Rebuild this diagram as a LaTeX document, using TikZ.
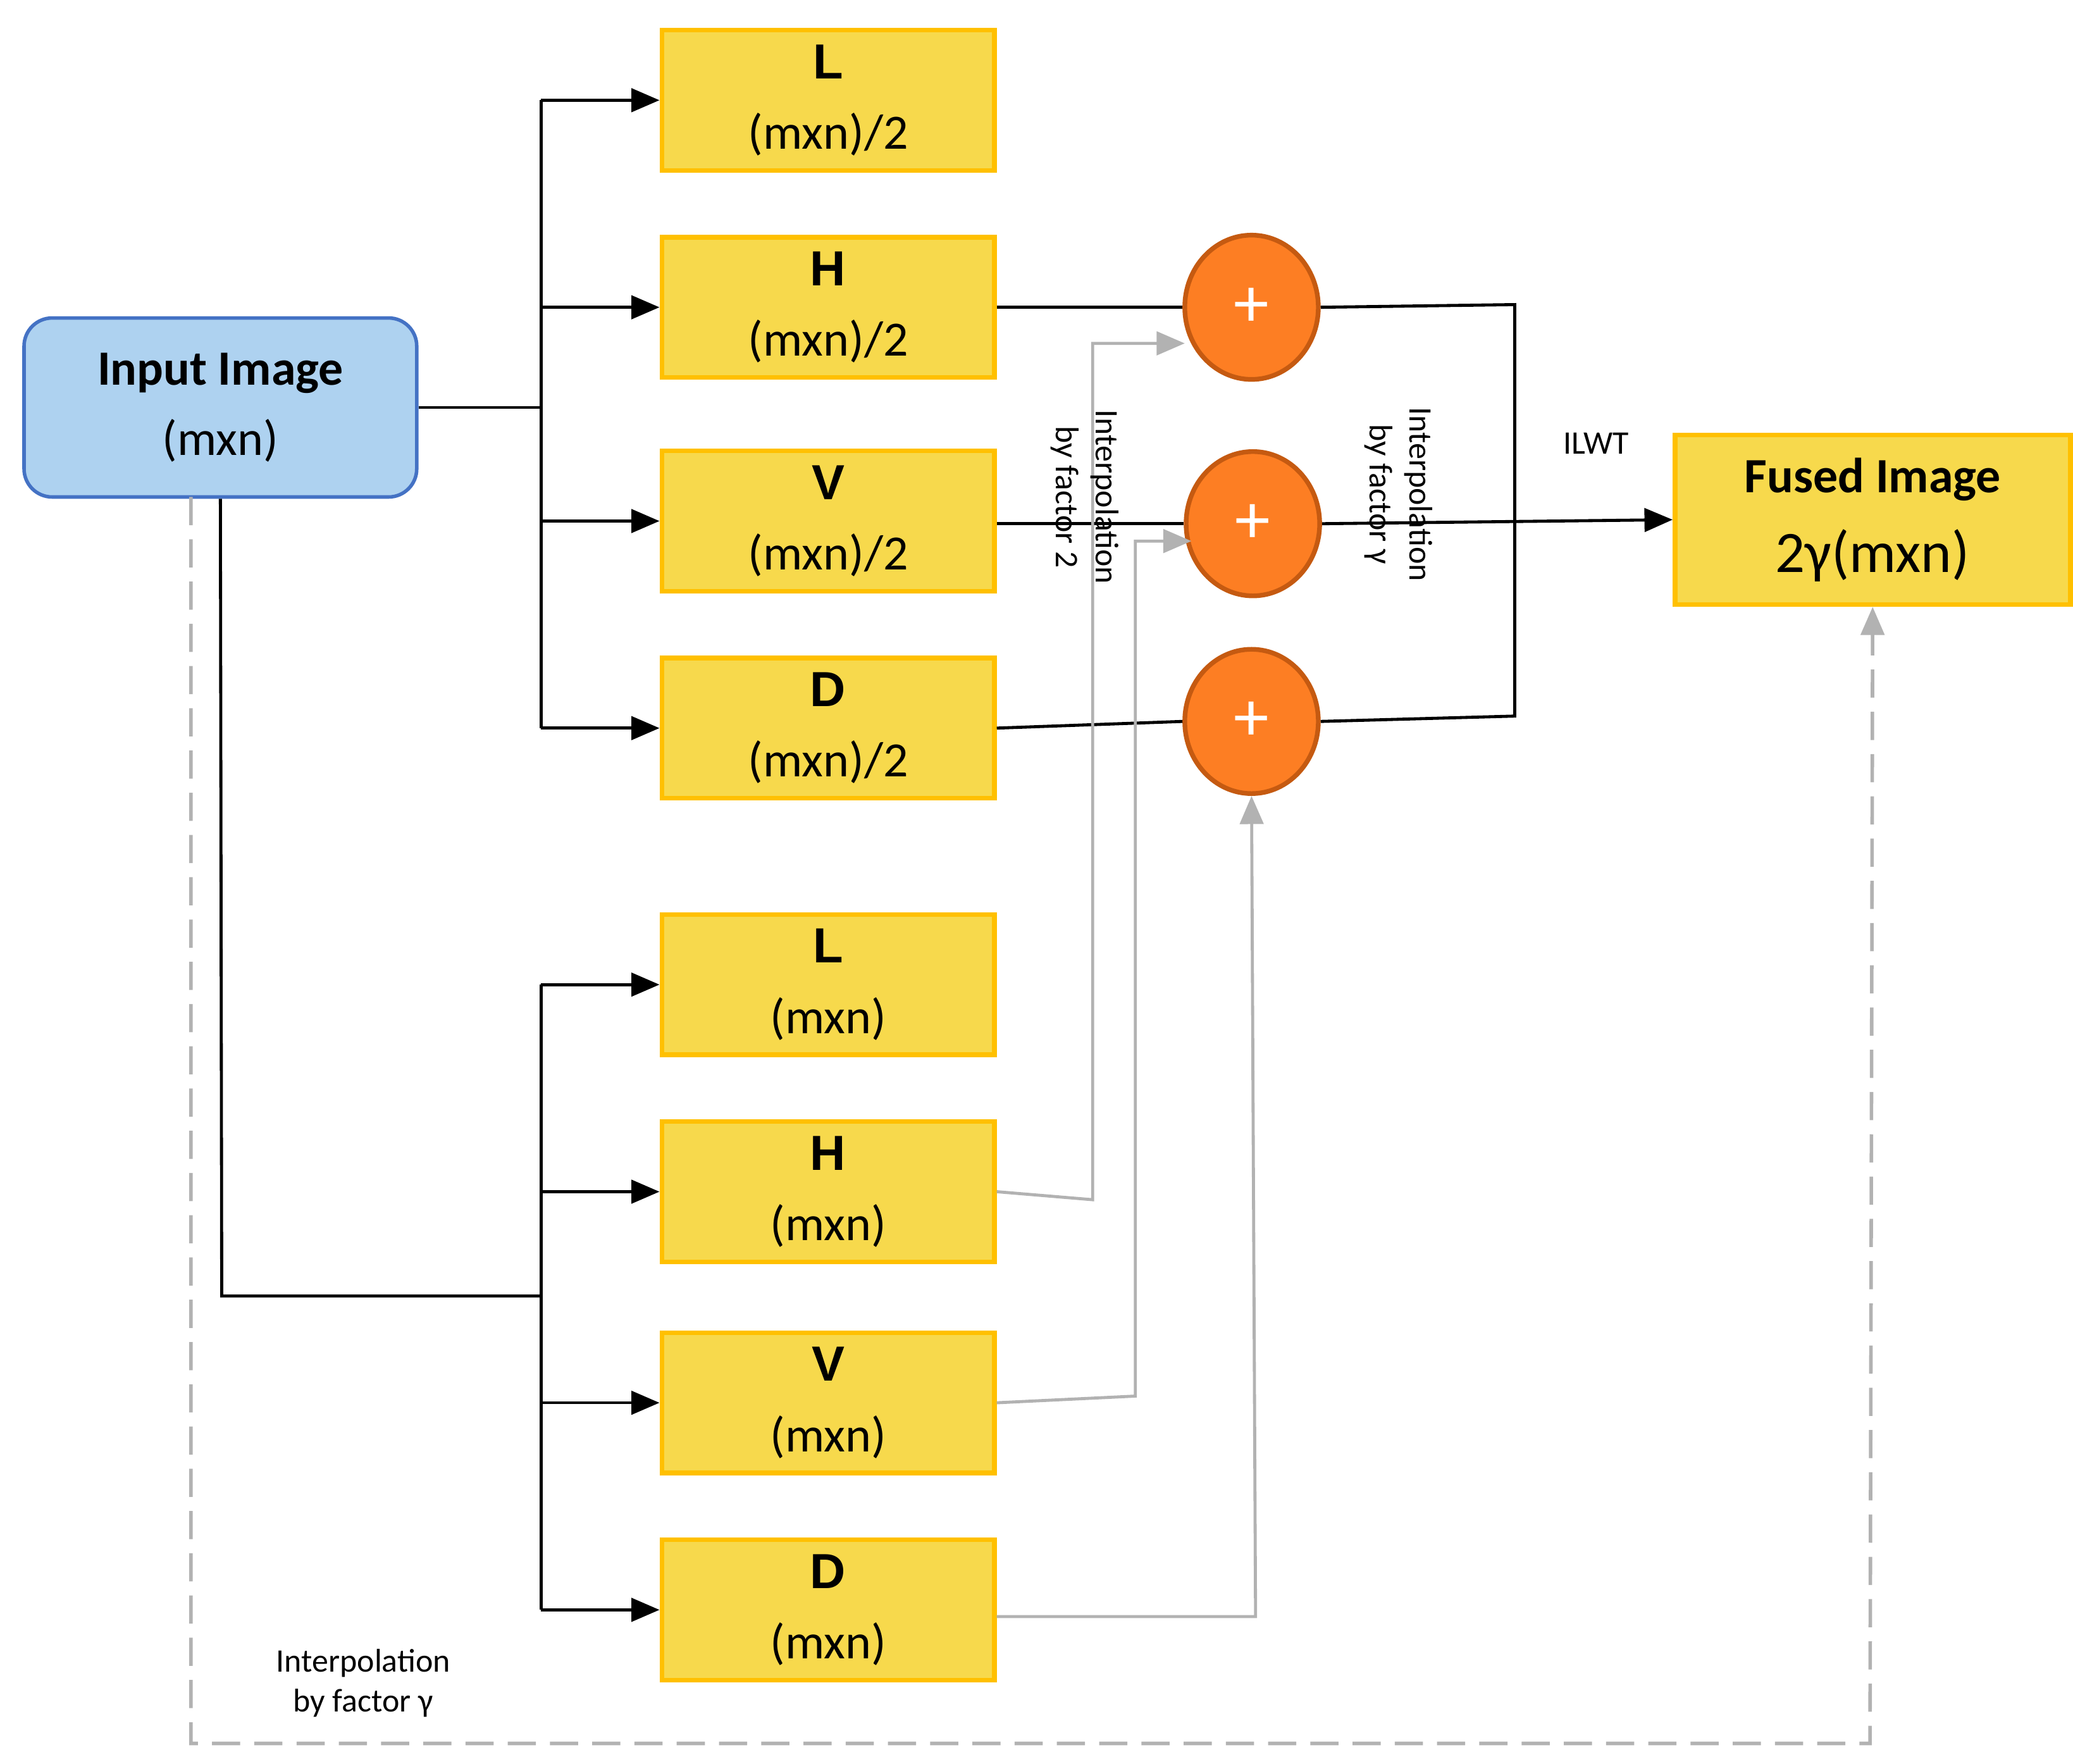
\documentclass[tikz,border=0pt]{standalone}
\usepackage{fontspec}
\setmainfont{Carlito}
\newfontfamily\arialf{Liberation Sans}
\usetikzlibrary{arrows.meta}
\definecolor{boxyellow}{HTML}{F7D94C}
\definecolor{boxedge}{HTML}{FFC000}
\definecolor{inblue}{HTML}{AED2F0}
\definecolor{inedge}{HTML}{4472C4}
\definecolor{sumorange}{HTML}{FD7E23}
\definecolor{sumedge}{HTML}{C55A11}
\tikzset{
  band/.style={draw=boxedge, line width=2pt, fill=boxyellow, minimum width=249*0.02cm,
    minimum height=105*0.02cm, align=center, inner sep=0pt, font=\fontsize{21}{30}\selectfont},
  summer/.style={ellipse, draw=sumedge, line width=2pt, fill=sumorange, minimum width=100*0.02cm,
    minimum height=108*0.02cm, inner sep=0pt, text=white, font=\fontsize{30}{30}\selectfont},
  wire/.style={line width=1.3pt, -{Triangle[length=12pt,width=10pt]}},
  greywire/.style={line width=1.3pt, gray!60, -{Triangle[length=12pt,width=10pt]}},
  smalllabel/.style={font=\fontsize{14}{17}\selectfont, align=center}
}
\usetikzlibrary{shapes.geometric}
\begin{document}
\begin{tikzpicture}[x=0.02cm, y=-0.02cm]
\useasboundingbox (0,0) rectangle (1552,1320);

\node [draw=inedge, line width=1.5pt, fill=inblue, rounded corners=12pt, minimum width=294*0.02cm,
       minimum height=134*0.02cm, align=center, font=\fontsize{21}{30}\selectfont]
      (input) at (165,305) {\textbf{Input Image}\\(mxn)};

\foreach \b/\y/\t in {L/75/{(mxn)/2}, H/230/{(mxn)/2}, V/390/{(mxn)/2}, D/545/{(mxn)/2}}
  {
   \node [band] (up-\b) at (620,\y) {{\arialf\bfseries \b}\\\t};
   \draw [wire] (405,\y) -- (up-\b.west);
  }
\foreach \b/\y in {L/737, H/892, V/1050, D/1205}
  {
   \node [band] (lo-\b) at (620,\y) {{\arialf\bfseries \b}\\(mxn)};
   \draw [wire] (405,\y) -- (lo-\b.west);
  }

\node [summer] (sum-H) at (937,230) {+};
\node [summer] (sum-V) at (938,392) {+};
\node [summer] (sum-D) at (937,540) {+};

\node [draw=boxedge, line width=2pt, fill=boxyellow, minimum width=296*0.02cm, minimum height=127*0.02cm,
       align=center, font=\fontsize{21}{34}\selectfont] (fused) at (1402,389)
      {\textbf{Fused Image}\\{\fontsize{25}{30}\selectfont 2γ(mxn)}};

% input to both transforms
\draw [line width=1.3pt] (input.east) -- (405,305);
\draw [line width=1.3pt] (405,75) -- (405,545);
\draw [line width=1.3pt] (input.south) -- (166,970) -- (405,970);
\draw [line width=1.3pt] (405,737) -- (405,1205);

% bands into adders
\draw [line width=1.3pt] (up-H.east) -- (sum-H.west);
\draw [line width=1.3pt] (up-V.east |- sum-V.west) -- (sum-V.west);
\draw [line width=1.3pt] (up-D.east) -- (sum-D.west);
\draw [greywire] (lo-H.east) -- (818,898) -- (818,257) -- (887,257);
\draw [greywire] (lo-V.east) -- (850,1045) -- (850,405) -- (892,405);
\draw [greywire] (lo-D.east |- 0,1210) -- (940,1210) -- (sum-D.south);

% adders to output
\draw [line width=1.3pt] (sum-H.east) -- (1134,228) -- (1134,536) -- (sum-D.east);
\draw [wire] (sum-V.east) -- (fused.west);
\draw [line width=1.5pt, gray!60, dash pattern=on 12pt off 6pt, -{Triangle[length=12pt,width=10pt]}]
  (143,372) -- (143,1305) -- (1400,1305) -- (fused.south);

\node [smalllabel] (ilwt) at (1195,332) {ILWT};
\node [smalllabel] (interp-a) at (272,1260) {Interpolation\\by factor γ};
\node [smalllabel, rotate=-90] (interp-b) at (812,372) {Interpolation\\by factor 2};
\node [smalllabel, rotate=-90] (interp-c) at (1047,370) {Interpolation\\by factor γ};
\end{tikzpicture}
\end{document}
